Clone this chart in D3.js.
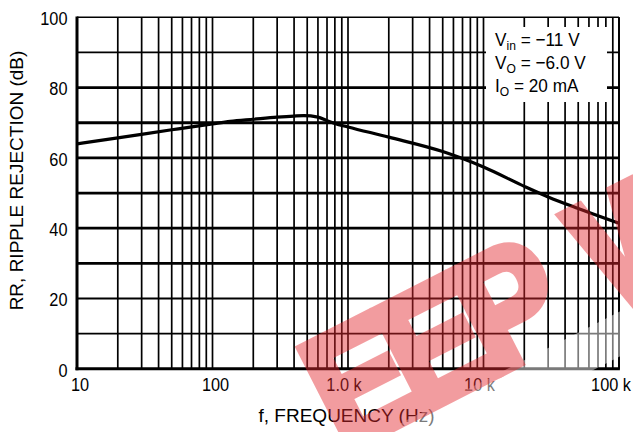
<!DOCTYPE html>
<html>
<head>
<meta charset="utf-8">
<script src="https://cdn.jsdelivr.net/npm/d3@7"></script>
<style>
  html, body { margin: 0; padding: 0; background: #fff; }
  svg { display: block; }
  text { font-family: 'Liberation Sans', Arial, sans-serif; fill: #000; }
</style>
</head>
<body>
<svg id="chart" width="633" height="432"></svg>
<script>
// ---- data ----
const freqHz = [10, 20, 50, 100, 135, 200, 300, 400, 470, 600, 700, 800, 1000, 2000, 5000, 7000, 10000, 20000, 30000, 50000, 100000];
const rippleDb = [64.0, 65.7, 68.0, 69.7, 70.4, 71.0, 71.6, 71.9, 72.0, 71.6, 70.6, 69.8, 68.8, 65.9, 61.8, 59.8, 57.4, 51.9, 48.9, 45.6, 41.4];
const xTickValues = [10, 100, 1000, 10000, 100000];
const xTickLabels = ["10", "100", "1.0 k", "10 k", "100 k"];
const yTickValues = [0, 20, 40, 60, 80, 100];
const yTickLabels = ["0", "20", "40", "60", "80", "100"];
const xTitle = "f, FREQUENCY (Hz)";
const yTitle = "RR, RIPPLE REJECTION (dB)";
const legendLines = [
  ["V", "in", " = \u221211 V"],
  ["V", "O", " = \u22126.0 V"],
  ["I", "O", " = 20 mA"]
];
const watermark = "EEPW";

// ---- layout ----
const W = 633, H = 432;
const m = { left: 77, top: 17.3, right: 14, bottom: 432 - 368.8 };
const svg = d3.select("#chart");
const narrow = 0.86;

const x = d3.scaleLog().domain([10, 100000]).range([m.left, W - m.right]);
const y = d3.scaleLinear().domain([0, 100]).range([H - m.bottom, m.top]);

const grid = svg.append("g");
grid.selectAll("line.v").data(x.ticks()).join("line")
  .attr("x1", d => x(d)).attr("x2", d => x(d))
  .attr("y1", y(100)).attr("y2", y(0))
  .attr("stroke", "#000").attr("stroke-width", 1.7);
grid.selectAll("line.h").data(d3.range(10, 100, 10)).join("line")
  .attr("x1", x(10)).attr("x2", x(100000))
  .attr("y1", d => y(d)).attr("y2", d => y(d))
  .attr("stroke", "#000").attr("stroke-width", d => (d >= 30 && d <= 80) ? 2.8 : 1.8);

// legend box (white) over grid
const lg = svg.append("g");
lg.append("rect").attr("x", 486).attr("y", 27).attr("width", 121).attr("height", 75).attr("fill", "#fff");
const lt = lg.selectAll("text").data(legendLines).join("text")
  .attr("transform", (d, i) => `translate(495,${45.5 + i * 23}) scale(0.93,1)`)
  .attr("font-size", 18.5);
lt.append("tspan").text(d => d[0]);
lt.append("tspan").attr("font-size", 13).attr("dy", 4).text(d => d[1]);
lt.append("tspan").attr("dy", -4).text(d => d[2]);

// frame
svg.append("line").attr("x1", x(10)).attr("x2", x(100000)).attr("y1", y(100)).attr("y2", y(100)).attr("stroke", "#000").attr("stroke-width", 1.6);
svg.append("line").attr("x1", x(100000)).attr("x2", x(100000)).attr("y1", y(100)).attr("y2", y(0)).attr("stroke", "#000").attr("stroke-width", 1.8);
svg.append("line").attr("x1", x(10)).attr("x2", x(10)).attr("y1", y(100) - 0.8).attr("y2", y(0) + 1.5).attr("stroke", "#000").attr("stroke-width", 3);
svg.append("line").attr("x1", x(10) - 1.5).attr("x2", x(100000) + 0.9).attr("y1", y(0)).attr("y2", y(0)).attr("stroke", "#000").attr("stroke-width", 3);

// curve
const line = d3.line().x(d => x(d[0])).y(d => y(d[1])).curve(d3.curveMonotoneX);
svg.append("path").datum(freqHz.map((f, i) => [f, rippleDb[i]]))
  .attr("d", line).attr("fill", "none").attr("stroke", "#000")
  .attr("stroke-width", 3.2).attr("stroke-linejoin", "round");

// y tick labels
svg.append("g").selectAll("text").data(yTickValues).join("text")
  .attr("transform", d => `translate(67.5,${y(d) + 1}) scale(${narrow},1)`)
  .attr("dy", "0.36em").attr("text-anchor", "end").attr("font-size", 19)
  .text((d, i) => yTickLabels[i]);

// x tick labels
svg.append("g").selectAll("text").data(xTickValues).join("text")
  .attr("transform", (d, i) => {
    const last = i === xTickValues.length - 1;
    const px = last ? W - 2 : x(d) + (xTickLabels[i].includes("k") ? -4 : 3);
    return `translate(${px},391) scale(${narrow},1)`;
  })
  .attr("text-anchor", (d, i) => i === xTickValues.length - 1 ? "end" : "middle")
  .attr("font-size", 19)
  .text((d, i) => xTickLabels[i]);

// axis titles
svg.append("text").attr("x", 346.5).attr("y", 422).attr("text-anchor", "middle").attr("font-size", 19).text(xTitle);
svg.append("text").attr("transform", "translate(23,180.5) rotate(-90)").attr("text-anchor", "middle").attr("font-size", 19).text(yTitle);

// watermark overlay (rotated, semi-transparent)
const defs = svg.append("defs");
const wmSx = 0.88;
const wmTf = `translate(351,448.5) rotate(-27) scale(${wmSx},1)`;
const wmSize = 162, wmStroke = 10;
const wmX = [-10.2, 85.2, 180.7, 333].join(" ");
function wmText(sel, color) {
  return sel.append("text").attr("transform", wmTf)
    .attr("x", wmX).attr("y", 0)
    .attr("font-family", "'DejaVu Sans', sans-serif").attr("font-weight", "bold")
    .attr("font-size", wmSize)
    .attr("stroke", color).attr("stroke-width", wmStroke).attr("stroke-linejoin", "miter")
    .style("fill", color).text(watermark);
}
const mask = defs.append("mask").attr("id", "wmMask");
mask.append("rect").attr("x", 0).attr("y", 0).attr("width", W).attr("height", H).attr("fill", "#fff");
wmText(mask, "#000");
svg.append("rect").attr("transform", wmTf)
  .attr("x", -16 / wmSx).attr("y", -150).attr("width", 560 / wmSx).attr("height", 190)
  .attr("fill", "#fff").attr("opacity", 0.48).attr("mask", "url(#wmMask)");
wmText(svg.append("g").attr("opacity", 0.46), "#e42a30");
</script>
</body>
</html>
